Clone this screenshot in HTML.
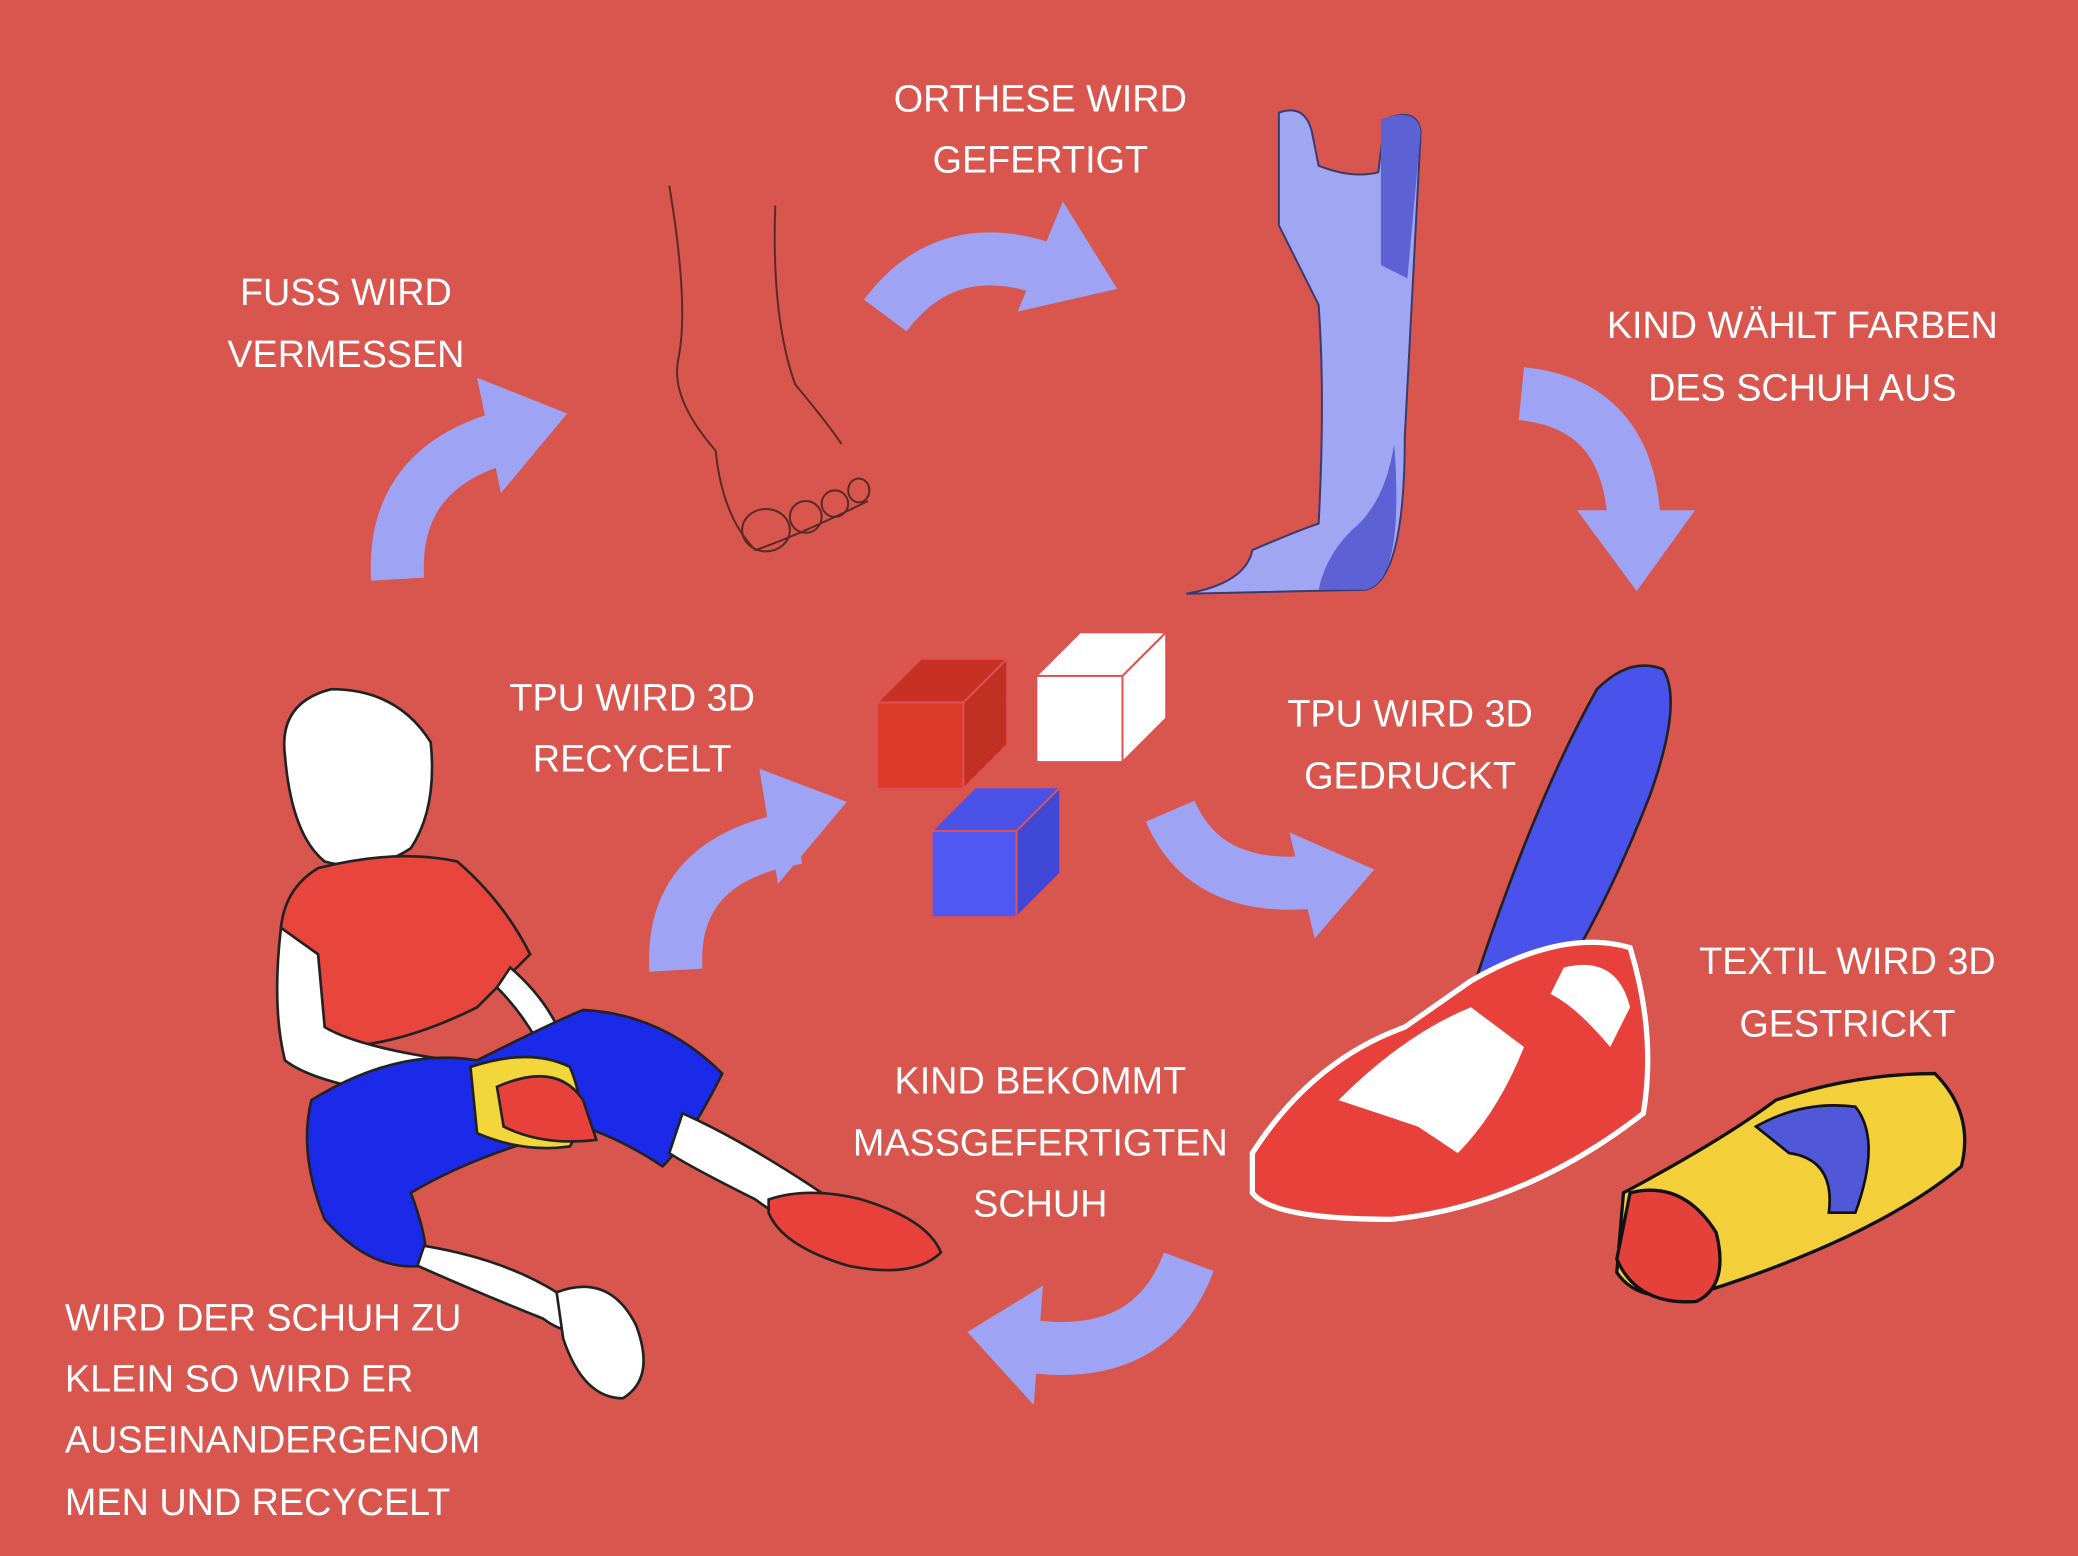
<!DOCTYPE html>
<html><head><meta charset="utf-8"><style>
html,body{margin:0;padding:0;background:#d9564f;}
svg{display:block}
text{font-family:"Liberation Sans",sans-serif;font-size:28.5px;fill:#fff;}
</style></head><body>
<svg width="2078" height="1556" viewBox="0 0 1568 1174" preserveAspectRatio="none">
<rect width="1568" height="1174" fill="#d9564f"/>
<g fill="none" stroke="#9ea3f3" stroke-width="40">
<path d="M300,437 Q295,350 388,328"/>
<path d="M668,238 Q715,175 795,205"/>
<path d="M1148,297 Q1228,305 1233,392"/>
<path d="M883,612 Q910,675 995,665"/>
<path d="M897,952 Q868,1030 772,1015"/>
<path d="M510,732 Q505,648 602,632"/>
</g>
<g fill="#9ea3f3">
<polygon points="360,285 428,312 378,372"/>
<polygon points="802,152 843,218 768,235"/>
<polygon points="1190,385 1279,385 1235,446"/>
<polygon points="973,628 1037,656 992,708"/>
<polygon points="787,970 730,1005 780,1060"/>
<polygon points="573,580 639,605 587,667"/>
</g>
<g stroke="#e05050" stroke-width="1.5">
<polygon points="662,530 695,497 760,497 727,530" fill="#c83024"/>
<polygon points="727,530 760,497 760,562 727,595" fill="#c23024"/>
<rect x="662" y="530" width="65" height="65" fill="#dc3a2a"/>
<polygon points="782,510 815,477 880,477 847,510" fill="#fff"/>
<polygon points="847,510 880,477 880,542 847,575" fill="#fff"/>
<rect x="782" y="510" width="65" height="65" fill="#fff"/>
<polygon points="703,627 736,594 800,594 767,627" fill="#4a52e8"/>
<polygon points="767,627 800,594 800,659 767,692" fill="#4048d8"/>
<rect x="703" y="627" width="64" height="65" fill="#5058f2"/>
</g>
<g fill="none" stroke="#5a2a28" stroke-width="1.5">
<path d="M505,140 Q520,230 512,270 Q505,300 540,340 Q545,390 570,415 Q600,405 655,378"/>
<path d="M585,155 Q582,240 600,290 Q625,320 635,335"/>
<ellipse cx="578" cy="400" rx="18" ry="16"/><ellipse cx="608" cy="390" rx="12" ry="12"/>
<ellipse cx="630" cy="380" rx="10" ry="10"/><ellipse cx="648" cy="370" rx="8" ry="9"/>
</g>
<path d="M965,85 Q985,78 990,100 L995,125 Q1020,135 1040,130 L1045,90 Q1070,80 1072,100 L1060,330 Q1060,440 1030,445 L895,448 Q940,440 945,415 Q980,400 995,395 Q1000,300 995,230 L965,170 Z" fill="#a0a6f2" stroke="#3a3a70" stroke-width="1.5"/>
<path d="M1042,90 Q1070,80 1072,100 L1062,210 L1042,200 Z" fill="#5c62d4"/>
<path d="M1052,335 Q1060,440 1030,445 L995,445 Q1000,420 1020,400 Q1045,380 1052,335 Z" fill="#5c62d4"/>
<path d="M1115,735 Q1160,600 1205,520 Q1230,495 1255,505 Q1270,530 1245,600 Q1210,690 1170,750 Z" fill="#4a52ec" stroke="#222" stroke-width="2"/>
<path d="M945,870 Q990,800 1060,775 L1110,740 Q1180,700 1230,715 Q1250,780 1240,840 Q1150,910 1050,920 Q960,920 945,900 Z" fill="#e8403a" stroke="#fff" stroke-width="4"/>
<path d="M1010,830 Q1060,780 1110,760 L1150,790 Q1130,840 1100,870 L1070,850 Z" fill="#fff"/>
<path d="M1180,730 Q1220,720 1230,760 L1215,790 Q1190,760 1170,750 Z" fill="#fff"/>
<path d="M1225,900 Q1300,860 1340,830 Q1400,810 1460,810 Q1490,840 1480,880 Q1420,930 1300,970 Q1240,990 1220,960 Z" fill="#f3cf3a" stroke="#111" stroke-width="2.5"/>
<path d="M1230,900 Q1270,890 1295,930 Q1305,970 1280,982 Q1235,985 1220,950 Z" fill="#e5413a" stroke="#111" stroke-width="2.5"/>
<path d="M1325,850 Q1360,830 1400,835 Q1420,860 1400,915 L1380,915 Q1385,875 1350,870 Z" fill="#5058d8" stroke="#111" stroke-width="2"/>
<g stroke="#222" stroke-width="2">
<path d="M215,570 Q210,530 250,520 Q300,520 325,560 Q330,610 310,640 Q280,660 245,650 Q220,630 215,570 Z" fill="#fff"/>
<path d="M240,655 Q300,640 345,650 Q380,680 400,720 L380,740 L360,760 Q300,790 250,790 L240,760 Q215,740 212,700 Q215,670 240,655 Z" fill="#e8453c"/>
<path d="M212,700 Q205,760 215,800 Q240,820 330,830 L340,800 Q270,790 245,775 L240,720 Z" fill="#fff"/>
<path d="M385,730 Q420,760 430,800 L415,805 Q400,770 375,745 Z" fill="#fff"/>
<path d="M235,830 Q300,790 360,800 Q420,770 440,762 Q500,765 545,810 Q520,860 500,880 Q470,860 440,850 Q360,870 310,900 Q325,940 320,955 Q280,960 245,920 Q225,870 235,830 Z" fill="#1a2ae8"/>
<path d="M515,840 Q560,860 620,900 L640,930 Q610,935 570,905 Q520,880 505,870 Z" fill="#fff"/>
<path d="M580,905 Q610,895 650,905 Q700,920 710,945 Q690,965 640,955 Q590,940 580,915 Z" fill="#e8403a"/>
<path d="M320,940 Q380,950 420,975 L445,1000 Q430,1010 410,995 Q360,975 315,955 Z" fill="#fff"/>
<path d="M420,975 Q460,960 480,1000 Q495,1040 470,1055 Q440,1055 425,1010 Z" fill="#fff"/>
<path d="M355,805 Q400,790 430,805 Q445,840 430,865 Q395,870 360,855 Z" fill="#f2d63a"/>
<path d="M375,820 Q420,800 440,830 L450,860 Q410,865 380,850 Z" fill="#e8403a"/>
</g>
<g text-anchor="middle">
<text x="785" y="84">ORTHESE WIRD</text><text x="785" y="130">GEFERTIGT</text>
<text x="261" y="230">FUSS WIRD</text><text x="261" y="277">VERMESSEN</text>
<text x="1360" y="255">KIND WÄHLT FARBEN</text><text x="1360" y="302">DES SCHUH AUS</text>
<text x="477" y="536">TPU WIRD 3D</text><text x="477" y="582">RECYCELT</text>
<text x="1064" y="548">TPU WIRD 3D</text><text x="1064" y="595">GEDRUCKT</text>
<text x="1394" y="735">TEXTIL WIRD 3D</text><text x="1394" y="782">GESTRICKT</text>
<text x="785" y="825">KIND BEKOMMT</text><text x="785" y="872">MASSGEFERTIGTEN</text><text x="785" y="918">SCHUH</text>
</g>
<text x="49" y="1004">WIRD DER SCHUH ZU</text>
<text x="49" y="1050">KLEIN SO WIRD ER</text>
<text x="49" y="1096">AUSEINANDERGENOM</text>
<text x="49" y="1143">MEN UND RECYCELT</text>
</svg>
</body></html>
